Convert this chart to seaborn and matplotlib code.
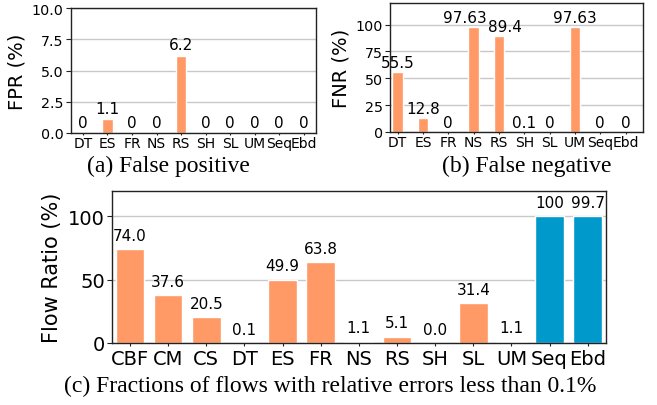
import matplotlib
matplotlib.use("Agg")
import matplotlib.pyplot as plt
import seaborn as sns
import pandas as pd

# ---- data ----
top_methods = ["DT", "ES", "FR", "NS", "RS", "SH", "SL", "UM", "Seq", "Ebd"]
fpr_values = [0, 1.1, 0, 0, 6.2, 0, 0, 0, 0, 0]
fpr_labels = ["0", "1.1", "0", "0", "6.2", "0", "0", "0", "0", "0"]
fnr_values = [55.5, 12.8, 0, 97.63, 89.4, 0.1, 0, 97.63, 0, 0]
fnr_labels = ["55.5", "12.8", "0", "97.63", "89.4", "0.1", "0", "97.63", "0", "0"]

flow_methods = ["CBF", "CM", "CS", "DT", "ES", "FR", "NS", "RS", "SH", "SL", "UM", "Seq", "Ebd"]
flow_values = [74.0, 37.6, 20.5, 0.1, 49.9, 63.8, 1.1, 5.1, 0.0, 31.4, 1.1, 100, 99.7]
flow_labels = ["74.0", "37.6", "20.5", "0.1", "49.9", "63.8", "1.1", "5.1", "0.0", "31.4", "1.1", "100", "99.7"]

ORANGE = "#FF9966"
BLUE = "#0099CC"
flow_colors = [ORANGE] * 11 + [BLUE] * 2

sns.set_theme(style="ticks")
plt.rcParams["font.family"] = ["DejaVu Sans"]
plt.rcParams["axes.edgecolor"] = "#222222"
plt.rcParams["axes.linewidth"] = 1.0
plt.rcParams["text.color"] = "black"
plt.rcParams["axes.labelcolor"] = "black"

W, H = 657, 406
fig = plt.figure(figsize=(W / 100, H / 100), dpi=100)


def add_ax(left, right, top, bottom):
    return fig.add_axes([left / W, 1 - bottom / H, (right - left) / W, (bottom - top) / H])


def style_ax(ax, tick_size, xlen, xpad):
    ax.grid(axis="y", color="#c8c8c8", linewidth=1.0)
    ax.grid(axis="x", visible=False)
    ax.set_axisbelow(True)
    ax.tick_params(axis="y", labelsize=tick_size, length=3.5, width=0.8, pad=1.5,
                   colors="#222222", labelcolor="black")
    ax.tick_params(axis="x", labelsize=tick_size, length=xlen, width=0.8, pad=xpad,
                   colors="#222222", labelcolor="black")
    ax.set_xlabel("")
    for s in ax.spines.values():
        s.set_visible(True)


# (a) FPR
ax1 = add_ax(70.7, 316, 9.3, 134)
df1 = pd.DataFrame({"m": top_methods, "v": fpr_values})
sns.barplot(data=df1, x="m", y="v", color=ORANGE, saturation=1, width=0.43, ax=ax1)
ax1.bar_label(ax1.containers[0], labels=fpr_labels, padding=2.5, fontsize=11)
ax1.set_ylim(0, 10)
ax1.set_yticks([0, 2.5, 5.0, 7.5, 10.0])
ax1.set_yticklabels(["0.0", "2.5", "5.0", "7.5", "10.0"])
ax1.set_xlim(-0.5, 9.5)
ax1.set_ylabel("FPR (%)", fontsize=14, labelpad=4)
style_ax(ax1, 10.3, 1.5, 1.0)
ax1.tick_params(axis="x", labelsize=10)

# (b) FNR
ax2 = add_ax(390, 643.3, 4, 133)
df2 = pd.DataFrame({"m": top_methods, "v": fnr_values})
sns.barplot(data=df2, x="m", y="v", color=ORANGE, saturation=1, width=0.41, ax=ax2)
anns = ax2.bar_label(ax2.containers[0], labels=fnr_labels, padding=1.5, fontsize=11)
# nudge the two adjacent high labels apart, as in the reference
anns[3].xyann = (-6.5, anns[3].xyann[1])
anns[4].xyann = (4.0, anns[4].xyann[1])
ax2.set_ylim(0, 120)
ax2.set_yticks([0, 25, 50, 75, 100])
ax2.set_xlim(-0.3, 9.7)
ax2.set_ylabel("FNR (%)", fontsize=14, labelpad=4)
style_ax(ax2, 10.3, 1.5, 1.0)
ax2.tick_params(axis="x", labelsize=10)

# (c) Flow ratio
ax3 = add_ax(111.7, 606, 191.7, 344)
df3 = pd.DataFrame({"m": flow_methods, "v": flow_values})
sns.barplot(data=df3, x="m", y="v", hue="m", palette=flow_colors, saturation=1,
            width=0.75, legend=False, ax=ax3)
for cont, lab in zip(ax3.containers, flow_labels):
    ax3.bar_label(cont, labels=[lab], padding=4.5, fontsize=11)
ax3.set_ylim(0, 120)
ax3.set_yticks([0, 50, 100])
ax3.set_xlim(-0.48, 12.48)
ax3.set_ylabel("Flow Ratio (%)", fontsize=15, labelpad=4)
style_ax(ax3, 14, 2.5, 2.0)

# captions
cap_kw = dict(ha="center", va="center", fontsize=17, family="Liberation Serif")
fig.text(168 / W, 1 - 166 / H, "(a) False positive", **cap_kw)
fig.text(527 / W, 1 - 166 / H, "(b) False negative", **cap_kw)
fig.text(330 / W, 1 - 386 / H, "(c) Fractions of flows with relative errors less than 0.1%", **cap_kw)

fig.savefig("out.png", dpi=100)
